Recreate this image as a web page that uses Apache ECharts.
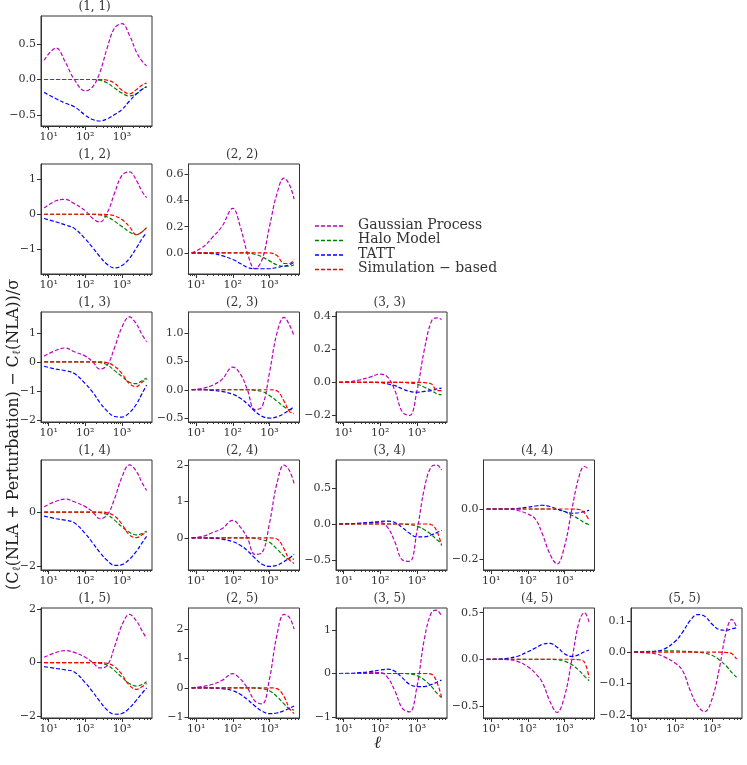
<!DOCTYPE html>
<html><head><meta charset="utf-8">
<script src="https://cdn.jsdelivr.net/npm/echarts@6/dist/echarts.min.js"></script>
<style>html,body{margin:0;padding:0;background:#fff}#c{width:747px;height:765px}</style>
</head><body><div id="c"></div>
<script>
const ell = [7.5, 16, 28, 50, 100, 160, 250, 400, 630, 1000, 1600, 2500, 3500, 4700];
const seriesNames = ['Gaussian Process', 'Halo Model', 'TATT', 'Simulation \u2212 based'];
const xTickLabels = [1, 2, 3];
const panels = [[1,1],[1,2],[2,2],[1,3],[2,3],[3,3],[1,4],[2,4],[3,4],[4,4],[1,5],[2,5],[3,5],[4,5],[5,5]];
const yMin = [-0.65, -1.69, -0.16, -2.07, -0.57, -0.24, -2.15, -0.88, -0.64, -0.244, -2.07, -1.03, -1.02, -0.63, -0.21];
const yMax = [0.888, 1.42, 0.677, 1.72, 1.375, 0.425, 1.93, 2.14, 0.89, 0.196, 2.04, 2.72, 1.5, 0.55, 0.141];
const yTicks = [[-0.5,0,0.5],[-1,0,1],[0,0.2,0.4,0.6],[-2,-1,0,1],[-0.5,0,0.5,1.0],[-0.2,0,0.2,0.4],[-2,0],[0,1,2],[-0.5,0,0.5],[-0.2,0],[-2,0,2],[-1,0,1,2],[-1,0,1],[-0.5,0,0.5],[-0.2,-0.1,0,0.1]];
const yDec = [1,0,1,0,1,1,0,0,1,1,0,0,0,1,1];

const gp = [
 [0.27,0.44,0.25,0.0,-0.16,-0.1,0.1,0.45,0.72,0.78,0.62,0.38,0.26,0.19],
 [0.18,0.38,0.42,0.3,0.1,-0.12,-0.22,0.05,0.6,1.1,1.2,0.95,0.65,0.47],
 [0.0,0.05,0.12,0.2,0.34,0.2,0.0,-0.12,-0.05,0.2,0.45,0.57,0.52,0.41],
 [0.2,0.4,0.48,0.35,0.2,0.0,-0.25,-0.1,0.5,1.2,1.55,1.3,0.95,0.7],
 [0.0,0.03,0.08,0.18,0.4,0.28,0.0,-0.35,-0.3,0.3,1.0,1.28,1.15,0.95],
 [0,0.005,0.015,0.03,0.05,0.03,-0.05,-0.18,-0.2,-0.05,0.2,0.37,0.39,0.38],
 [0.2,0.4,0.48,0.38,0.2,0.0,-0.25,-0.1,0.5,1.3,1.75,1.5,1.1,0.8],
 [0,0.05,0.15,0.25,0.48,0.3,0.0,-0.45,-0.4,0.4,1.5,2.0,1.85,1.5],
 [0,0.005,0.01,0.02,0.02,-0.05,-0.25,-0.5,-0.52,-0.1,0.5,0.8,0.82,0.75],
 [0,0,0,-0.005,-0.02,-0.04,-0.1,-0.18,-0.22,-0.15,0.0,0.13,0.17,0.16],
 [0.2,0.38,0.45,0.38,0.2,0.0,-0.2,-0.1,0.6,1.4,1.8,1.55,1.2,0.9],
 [0,0.05,0.12,0.25,0.48,0.3,0.0,-0.45,-0.55,0.3,1.8,2.5,2.4,2.0],
 [0,0,0.01,0.02,0.02,-0.1,-0.4,-0.8,-0.88,-0.3,0.8,1.4,1.45,1.3],
 [0,0,-0.005,-0.02,-0.08,-0.15,-0.25,-0.45,-0.57,-0.4,0.0,0.4,0.5,0.4],
 [0,-0.002,-0.005,-0.015,-0.035,-0.06,-0.12,-0.17,-0.19,-0.15,-0.05,0.07,0.105,0.08]
];
const halo = [
 [0,0,0,0,0,0,-0.01,-0.05,-0.12,-0.19,-0.23,-0.2,-0.14,-0.1],
 [0,0,0,0,0,0,-0.02,-0.08,-0.2,-0.35,-0.5,-0.58,-0.5,-0.38],
 [0,0,0,0,0,0,0,-0.01,-0.03,-0.06,-0.09,-0.1,-0.1,-0.09],
 [0,0,0,0,0,0,-0.02,-0.1,-0.3,-0.5,-0.7,-0.75,-0.65,-0.55],
 [0,0,0,0,0,0,0,-0.01,-0.03,-0.1,-0.2,-0.3,-0.35,-0.35],
 [0,0,0,0,0,0,0,0,-0.005,-0.01,-0.03,-0.05,-0.07,-0.075],
 [0,0,0,0,0,0,-0.02,-0.1,-0.3,-0.55,-0.75,-0.85,-0.8,-0.7],
 [0,0,0,0,0,0,0,-0.01,-0.05,-0.12,-0.3,-0.5,-0.58,-0.58],
 [0,0,0,0,0,0,0,0,-0.01,-0.03,-0.08,-0.15,-0.22,-0.27],
 [0,0,0,0,0,0,0,0,-0.002,-0.01,-0.025,-0.04,-0.055,-0.062],
 [0,0,0,0,0,0,-0.02,-0.1,-0.3,-0.55,-0.78,-0.88,-0.82,-0.72],
 [0,0,0,0,0,0,0,-0.01,-0.03,-0.1,-0.3,-0.55,-0.72,-0.75],
 [0,0,0,0,0,0,0,0,-0.01,-0.05,-0.15,-0.3,-0.45,-0.55],
 [0,0,0,0,0,0,0,0,-0.005,-0.02,-0.06,-0.12,-0.18,-0.23],
 [0,0.002,0.003,0.004,0.004,0.003,0.002,0.0,-0.003,-0.01,-0.025,-0.045,-0.065,-0.08]
];
const tatt = [
 [-0.18,-0.27,-0.33,-0.38,-0.5,-0.56,-0.58,-0.55,-0.49,-0.42,-0.3,-0.2,-0.14,-0.1],
 [-0.12,-0.22,-0.3,-0.4,-0.7,-0.95,-1.2,-1.42,-1.52,-1.45,-1.25,-0.95,-0.7,-0.52],
 [0,-0.002,-0.005,-0.02,-0.05,-0.08,-0.11,-0.12,-0.12,-0.12,-0.11,-0.1,-0.09,-0.07],
 [-0.15,-0.25,-0.3,-0.4,-0.75,-1.05,-1.4,-1.7,-1.88,-1.9,-1.75,-1.45,-1.1,-0.8],
 [0,0,-0.01,-0.03,-0.08,-0.15,-0.25,-0.38,-0.47,-0.5,-0.48,-0.42,-0.36,-0.3],
 [0,0,0,0,-0.002,-0.01,-0.02,-0.04,-0.055,-0.06,-0.055,-0.05,-0.04,-0.035],
 [-0.15,-0.25,-0.3,-0.4,-0.8,-1.15,-1.5,-1.8,-1.98,-1.95,-1.75,-1.45,-1.15,-0.9],
 [0,0,-0.01,-0.03,-0.1,-0.2,-0.35,-0.55,-0.72,-0.78,-0.75,-0.65,-0.55,-0.45],
 [0,0.005,0.01,0.02,0.035,0.04,0.02,-0.05,-0.13,-0.18,-0.18,-0.15,-0.12,-0.09],
 [0,0,0,0.002,0.007,0.012,0.015,0.01,0.0,-0.01,-0.017,-0.015,-0.01,-0.005],
 [-0.15,-0.22,-0.27,-0.35,-0.75,-1.1,-1.45,-1.78,-1.93,-1.9,-1.7,-1.4,-1.15,-0.95],
 [0,0,-0.01,-0.03,-0.1,-0.22,-0.4,-0.62,-0.8,-0.88,-0.86,-0.78,-0.7,-0.62],
 [0,0.005,0.02,0.04,0.08,0.1,0.05,-0.1,-0.25,-0.3,-0.3,-0.25,-0.2,-0.15],
 [0,0.002,0.01,0.03,0.08,0.12,0.16,0.17,0.13,0.06,0.03,0.05,0.08,0.1],
 [0,0.001,0.003,0.01,0.035,0.065,0.1,0.12,0.115,0.09,0.072,0.07,0.075,0.078]
];
const sim = [
 [0,0,0,0,0,0,0,-0.01,-0.05,-0.15,-0.2,-0.14,-0.08,-0.05],
 [0,0,0,0,0,0,0,-0.01,-0.05,-0.15,-0.35,-0.58,-0.5,-0.38],
 [0,0,0,0,0,0,0,0,0,0,-0.02,-0.08,-0.08,-0.05],
 [0,0,0,0,0,0,0,-0.03,-0.15,-0.4,-0.75,-0.85,-0.7,-0.6],
 [0,0,0,0,0,0,0,0,0,0,-0.02,-0.2,-0.38,-0.42],
 [0,0,0,0,0,0,0,0,0,0,-0.002,-0.01,-0.05,-0.05],
 [0,0,0,0,0,0,0,-0.03,-0.15,-0.45,-0.85,-0.95,-0.85,-0.75],
 [0,0,0,0,0,0,0,0,0,0,-0.03,-0.3,-0.6,-0.7],
 [0,0,0,0,0,0,0,0,0,0,0,-0.01,-0.1,-0.3],
 [0,0,0,0,0,0,0,0,0,0,0,-0.002,-0.015,-0.045],
 [0,0,0,0,0,0,0,-0.03,-0.15,-0.45,-0.85,-1.0,-0.9,-0.78],
 [0,0,0,0,0,0,0,0,0,0,-0.03,-0.3,-0.7,-0.88],
 [0,0,0,0,0,0,0,0,0,0,0,-0.02,-0.2,-0.55],
 [0,0,0,0,0,0,0,0,0,0,0,-0.005,-0.03,-0.2],
 [0,0,0,0,0,0,0,0,0,0,0,-0.001,-0.005,-0.022]
];
const colors = ['#bf00bf', '#008000', '#0000ff', '#ff0000'];

const FONT = 'DejaVu Serif';
const lx = Math.log10;
const minor = [];
for (let k = 0; k <= 3; k++) for (let m = 2; m <= 9; m++) { const v = lx(m * Math.pow(10, k)); if (v > 0.79 && v < 3.82) minor.push(v); }

const grid = [], xAxis = [], yAxis = [], series = [], graphic = [];
const supMap = {'-':'\u207B','0':'\u2070','1':'\u00B9','2':'\u00B2','3':'\u00B3'};
panels.forEach((p, k) => {
  const [i, j] = p;
  const left = 41 + 147.5 * (i - 1), top = 16 + 148 * (j - 1);
  grid.push({left: left, top: top, width: 111, height: 110, show: true, borderColor: '#333', borderWidth: 1});
  const xi = xAxis.length;
  xAxis.push({type: 'value', gridIndex: k, min: 0.79, max: 3.82,
    axisLine: {show: true, onZero: false, lineStyle: {color: '#333'}},
    splitLine: {show: false},
    axisTick: {show: true, customValues: xTickLabels, length: 4, lineStyle: {color: '#333'}},
    axisLabel: {customValues: xTickLabels, fontFamily: FONT, fontSize: 11, color: '#333', margin: 6,
      formatter: v => '10' + String(Math.round(v)).split('').map(c => supMap[c]).join('')}});
  xAxis.push({type: 'value', gridIndex: k, min: 0.79, max: 3.82, position: 'bottom',
    axisLine: {show: false, onZero: false}, splitLine: {show: false},
    axisTick: {show: true, customValues: minor, length: 2, lineStyle: {color: '#333'}},
    axisLabel: {show: false}});
  yAxis.push({type: 'value', gridIndex: k, min: yMin[k], max: yMax[k],
    axisLine: {show: true, onZero: false, lineStyle: {color: '#333'}},
    splitLine: {show: false},
    axisTick: {show: true, customValues: yTicks[k], length: 4, lineStyle: {color: '#333'}},
    axisLabel: {customValues: yTicks[k], fontFamily: FONT, fontSize: 11, color: '#333', margin: 5,
      formatter: v => { const s = Math.abs(v).toFixed(yDec[k]); return (v < -1e-9 ? '\u2212' : '') + s; }}});
  [gp, halo, tatt, sim].forEach((arr, s) => {
    series.push({type: 'line', name: seriesNames[s], xAxisIndex: xi, yAxisIndex: k,
      data: ell.map((e, n) => [lx(e), arr[k][n]]), smooth: 0.4, showSymbol: false, silent: true,
      lineStyle: {color: colors[s], width: 1.2, type: [4, 2]}});
  });
  graphic.push({type: 'text', left: left + 55.5 - 18, top: top - 15,
    style: {text: '(' + i + ', ' + j + ')', fontFamily: FONT, fontSize: 12, fill: '#333', width: 36, align: 'center'}});
});
seriesNames.forEach((n, s) => {
  const y = 226 + s * 14.5;
  graphic.push({type: 'line', shape: {x1: 315, y1: y, x2: 345, y2: y}, style: {stroke: colors[s], lineWidth: 1.3, lineDash: [4, 2]}});
  graphic.push({type: 'text', x: 358, y: y - 8, style: {text: n, fontFamily: FONT, fontSize: 14, fill: '#333'}});
});
graphic.push({type: 'text', x: 4, y: 590, rotation: Math.PI / 2,
  style: {text: '(C{s|\u2113}(NLA + Perturbation) \u2212 C{s|\u2113}(NLA))/\u03C3', fontFamily: FONT, fontSize: 16, fill: '#222',
    rich: {s: {fontFamily: FONT, fontSize: 11, fill: '#222', padding: [8, 0, 0, 0]}}}});
graphic.push({type: 'text', x: 374, y: 735, style: {text: '\u2113', fontFamily: FONT, fontSize: 17, fontStyle: 'italic', fill: '#222'}});

const chart = echarts.init(document.getElementById('c'), null, {renderer: 'canvas'});
chart.setOption({animation: false, grid, xAxis, yAxis, series, graphic});
</script></body></html>
